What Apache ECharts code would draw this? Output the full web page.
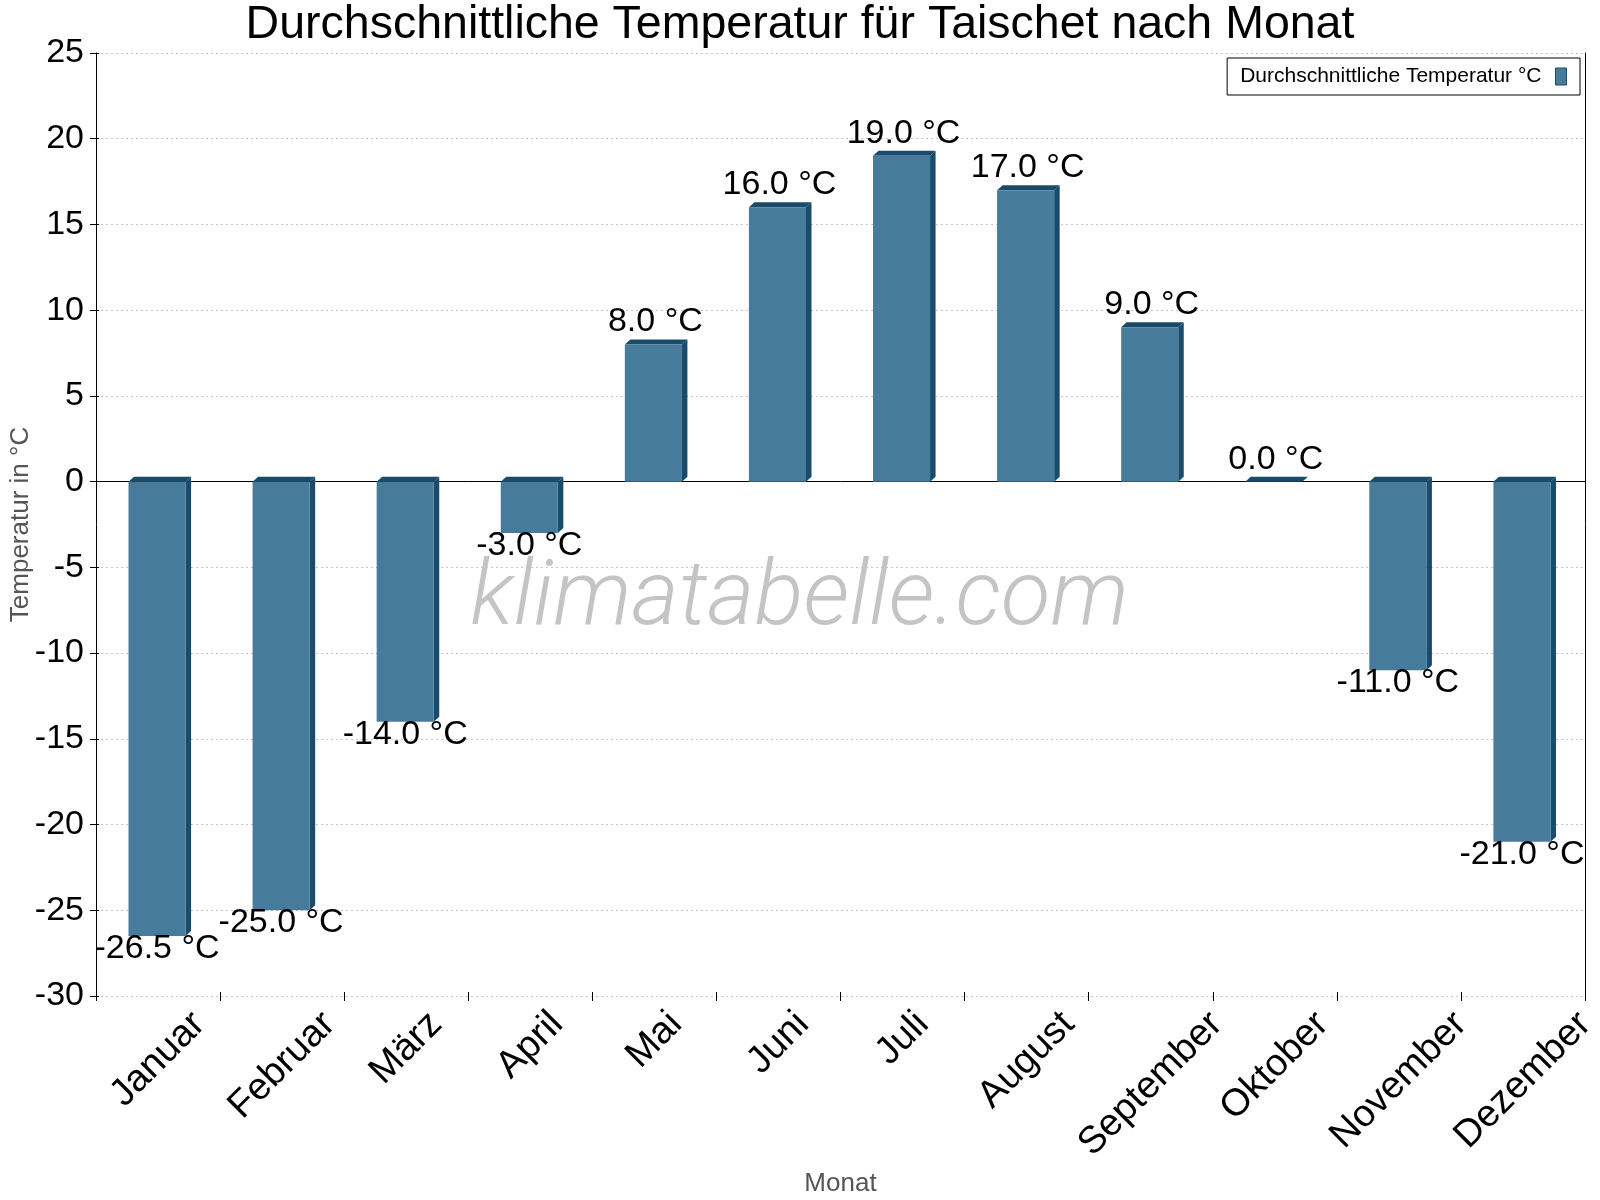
<!DOCTYPE html>
<html>
<head>
<meta charset="utf-8">
<script src="https://cdn.jsdelivr.net/npm/echarts@6/dist/echarts.min.js"></script>
<style>html,body{margin:0;padding:0;background:#fff}#c{width:1600px;height:1200px}</style>
</head>
<body>
<div id="c"></div>
<script>
const titleText = 'Durchschnittliche Temperatur für Taischet nach Monat';
const seriesName = 'Durchschnittliche Temperatur °C';
const months = ['Januar','Februar','März','April','Mai','Juni','Juli','August','September','Oktober','November','Dezember'];
const temps = [-26.5, -25.0, -14.0, -3.0, 8.0, 16.0, 19.0, 17.0, 9.0, 0.0, -11.0, -21.0];
const yMin = -30, yMax = 25, yStep = 5;

const FONT = '"Liberation Sans", Arial, sans-serif';
const FRONT = '#467B9C', DARK = '#1A4B6B';
const XLAB_SIZE = 38;

const mctx = document.createElement('canvas').getContext('2d');
mctx.font = XLAB_SIZE + 'px ' + FONT;

const chart = echarts.init(document.getElementById('c'), null, {renderer: 'canvas'});

function renderBar(params, api) {
  const i = api.value(0), v = api.value(1);
  const pv = api.coord([i, v]);
  const p0 = api.coord([i, 0]);
  const bw = api.size([1, 0])[0] * 0.46;
  const cx = pv[0] - 1;
  const x0 = cx - bw / 2, x1 = cx + bw / 2;
  const yT = Math.min(pv[1], p0[1]), yB = Math.max(pv[1], p0[1]);
  const dx = 5.5, dy = 5;
  const children = [];
  children.push({type: 'polygon', shape: {points: [[x1, yT], [x1 + dx, yT - dy], [x1 + dx, yB - dy], [x1, yB]]}, style: {fill: DARK}});
  children.push({type: 'polygon', shape: {points: [[x0, yT], [x0 + dx, yT - dy], [x1 + dx, yT - dy], [x1, yT]]}, style: {fill: DARK}});
  if (yB - yT > 0) children.push({type: 'rect', shape: {x: x0, y: yT, width: bw, height: yB - yT}, style: {fill: FRONT}});
  const txt = v.toFixed(1) + ' °C';
  if (v >= 0) {
    children.push({type: 'text', x: cx + 2, y: yT - 22.5, style: {text: txt, font: '34px ' + FONT, fill: '#000', align: 'center', verticalAlign: 'middle'}});
  } else {
    children.push({type: 'text', x: cx, y: yB + 12.5, style: {text: txt, font: '34px ' + FONT, fill: '#000', align: 'center', verticalAlign: 'middle'}});
  }
  return {type: 'group', children: children};
}

function renderXLabel(params, api) {
  const i = api.value(0);
  const p = api.coord([i, yMin]);
  const name = months[i];
  const L = mctx.measureText(name).width;
  const H = XLAB_SIZE * 0.78;
  const half = 0.7071 * (L + H) / 2;
  return {
    type: 'text',
    x: p[0], y: p[1] + 12 + half,
    rotation: Math.PI / 4,
    style: {text: name, font: XLAB_SIZE + 'px ' + FONT, fill: '#000', align: 'center', verticalAlign: 'middle'}
  };
}

const yBase = {type: 'value', min: yMin, max: yMax, interval: yStep};

chart.setOption({
  animation: false,
  backgroundColor: '#fff',
  title: {
    text: titleText, left: 'center', top: -5,
    textStyle: {fontFamily: FONT, fontSize: 46.5, fontWeight: 'normal', color: '#000', lineHeight: 50}
  },
  legend: {
    data: [{name: seriesName, icon: 'rect', itemStyle: {color: FRONT, borderColor: DARK, borderWidth: 1}}],
    right: 20, top: 58, align: 'right',
    itemWidth: 11, itemHeight: 17,
    padding: [8, 13, 8, 13],
    borderColor: '#000', borderWidth: 1, backgroundColor: '#fff',
    textStyle: {fontFamily: FONT, fontSize: 21, color: '#000', padding: [0, 9, 0, 0]},
    selectedMode: false
  },
  graphic: [{
    type: 'text', x: 799.5, y: 601, z: 10, silent: true,
    style: {text: 'klimatabelle.com', font: 'italic 300 91px Roboto, "Liberation Sans", sans-serif', fill: '#c4c4c4', align: 'center', verticalAlign: 'middle'}
  }],
  grid: {left: 96, right: 15, top: 53, bottom: 204, containLabel: false, outerBoundsMode: 'none'},
  xAxis: [
    {type: 'category', data: months, position: 'bottom', boundaryGap: true,
     axisLine: {show: false, onZero: false}, axisTick: {show: true, length: 5, lineStyle: {color: '#000'}},
     axisLabel: {show: false}, splitLine: {show: false},
     name: 'Monat', nameLocation: 'middle', nameGap: 175, nameMoveOverlap: false,
     nameTextStyle: {fontFamily: FONT, fontSize: 26, color: '#555'}},
    {type: 'category', data: months, position: 'bottom', boundaryGap: true,
     axisLine: {show: false, onZero: false}, axisTick: {show: true, inside: true, length: 4, lineStyle: {color: '#000'}},
     axisLabel: {show: false}, splitLine: {show: false}}
  ],
  yAxis: [
    Object.assign({}, yBase, {position: 'left',
     axisLine: {show: true, onZero: false, lineStyle: {color: '#000'}},
     axisTick: {show: true, length: 6, lineStyle: {color: '#000'}},
     axisLabel: {fontFamily: FONT, fontSize: 34, color: '#000', margin: 12},
     splitLine: {show: true, lineStyle: {color: '#c4c4c4', type: [2, 3], width: 1}},
     name: 'Temperatur in °C', nameLocation: 'middle', nameGap: 62, nameMoveOverlap: false,
     nameTextStyle: {fontFamily: FONT, fontSize: 26, color: '#555'}}),
    Object.assign({}, yBase, {position: 'right',
     axisLine: {show: true, onZero: false, lineStyle: {color: '#000'}},
     axisTick: {show: false}, axisLabel: {show: false}, splitLine: {show: false}}),
    Object.assign({}, yBase, {position: 'left', offset: 0,
     axisLine: {show: false, onZero: false},
     axisTick: {show: true, inside: true, length: 3, lineStyle: {color: '#000'}},
     axisLabel: {show: false}, splitLine: {show: false}})
  ],
  series: [
    {
      name: seriesName, type: 'custom', xAxisIndex: 0, yAxisIndex: 0, z: 3, clip: false,
      itemStyle: {color: FRONT},
      renderItem: renderBar,
      encode: {x: 0, y: 1},
      data: temps.map((t, i) => [i, t]),
      markLine: {
        silent: true, symbol: 'none', z: 1,
        label: {show: false},
        lineStyle: {color: '#000', type: 'solid', width: 1},
        data: [{yAxis: 0}]
      }
    },
    {
      name: 'xlabels', type: 'custom', xAxisIndex: 0, yAxisIndex: 0, z: 3, clip: false,
      renderItem: renderXLabel,
      encode: {x: 0},
      data: months.map((m, i) => [i]),
      silent: true
    }
  ]
});
</script>
</body>
</html>
